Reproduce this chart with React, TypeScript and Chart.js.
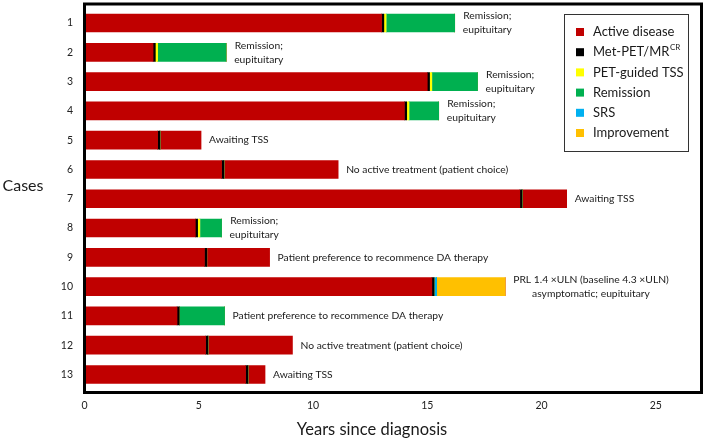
import React, { useEffect, useRef } from "react";
import { Chart, registerables } from "chart.js";

Chart.register(...registerables);

const cases = [1, 2, 3, 4, 5, 6, 7, 8, 9, 10, 11, 12, 13];
const activeBefore = [13.0, 3.0, 15.0, 14.0, 3.2, 6.0, 19.05, 4.85, 5.25, 15.2, 4.05, 5.3, 7.05];
const metPet = [0.1, 0.1, 0.1, 0.1, 0.1, 0.1, 0.1, 0.1, 0.1, 0.1, 0.1, 0.1, 0.1];
const petTss = [0.1, 0.1, 0.1, 0.1, 0, 0, 0, 0.1, 0, 0, 0, 0, 0];
const srs = [0, 0, 0, 0, 0, 0, 0, 0, 0, 0.11, 0, 0, 0];
const remission = [3.0, 3.0, 2.0, 1.3, 0, 0, 0, 0.95, 0, 0, 1.98, 0, 0];
const improvement = [0, 0, 0, 0, 0, 0, 0, 0, 0, 3.0, 0, 0, 0];
const activeAfter = [0, 0, 0, 0, 1.8, 5.0, 1.95, 0, 2.75, 0, 0, 3.7, 0.75];
const outcomes = [
  "Remission;\neupituitary",
  "Remission;\neupituitary",
  "Remission;\neupituitary",
  "Remission;\neupituitary",
  "Awaiting TSS",
  "No active treatment (patient choice)",
  "Awaiting TSS",
  "Remission;\neupituitary",
  "Patient preference to recommence DA therapy",
  "PRL 1.4 \u00d7ULN (baseline 4.3 \u00d7ULN)\nasymptomatic; eupituitary",
  "Patient preference to recommence DA therapy",
  "No active treatment (patient choice)",
  "Awaiting TSS",
];
const xTicks = [0, 5, 10, 15, 20, 25];

const legendItems = [
  { label: "Active disease", sup: "", color: "#C00000" },
  { label: "Met-PET/MR", sup: "CR", color: "#000000" },
  { label: "PET-guided TSS", sup: "", color: "#FFFF00" },
  { label: "Remission", sup: "", color: "#00B050" },
  { label: "SRS", sup: "", color: "#00B0F0" },
  { label: "Improvement", sup: "", color: "#FFC000" },
];

const FONT = "Lato, 'Open Sans', sans-serif";

const toPts = (arr: number[]) => arr.map((v, i) => ({ x: v, y: cases[i] }));

export default function App() {
  const ref = useRef<HTMLCanvasElement | null>(null);

  useEffect(() => {
    if (!ref.current) return;
    Chart.defaults.font.family = FONT;

    const extras = {
      id: "extras",
      afterDatasetsDraw(chart: any) {
        const { ctx, scales } = chart;
        const xs = scales.x;
        const ys = scales.y;
        ctx.save();
        ctx.fillStyle = "#1a1a1a";
        ctx.font = `10.3px ${FONT}`;
        ctx.textBaseline = "middle";
        ctx.textAlign = "center";
        cases.forEach((c, i) => {
          const end =
            activeBefore[i] + metPet[i] + petTss[i] + srs[i] + remission[i] + improvement[i] + activeAfter[i];
          const x0 = xs.getPixelForValue(end) + 8;
          const yc = ys.getPixelForValue(c);
          const lines = outcomes[i].split("\n");
          const w = Math.max(...lines.map((l) => ctx.measureText(l).width));
          const lh = 14;
          lines.forEach((l, j) => {
            ctx.fillText(l, x0 + w / 2, yc + (j - (lines.length - 1) / 2) * lh);
          });
        });
        ctx.restore();
      },
      afterDraw(chart: any) {
        const { ctx, chartArea } = chart;
        ctx.save();
        ctx.strokeStyle = "#000";
        ctx.lineWidth = 3;
        ctx.strokeRect(chartArea.left, chartArea.top, chartArea.right - chartArea.left, chartArea.bottom - chartArea.top);
        ctx.lineWidth = 1;
        ctx.strokeStyle = "#333";
        ctx.fillStyle = "#fff";
        ctx.fillRect(564.5, 14.5, 124, 137);
        ctx.strokeRect(564.5, 14.5, 124, 137);
        ctx.textAlign = "left";
        ctx.textBaseline = "middle";
        legendItems.forEach((it, i) => {
          const y = 32 + i * 20.2;
          ctx.fillStyle = it.color;
          ctx.fillRect(576, y - 4, 8, 8);
          ctx.fillStyle = "#1a1a1a";
          ctx.font = `13px ${FONT}`;
          ctx.fillText(it.label, 593, y);
          if (it.sup) {
            const w = ctx.measureText(it.label).width;
            ctx.font = `8px ${FONT}`;
            ctx.fillText(it.sup, 593 + w + 0.5, y - 5);
          }
        });
        ctx.fillStyle = "#1a1a1a";
        ctx.font = `16px ${FONT}`;
        ctx.textAlign = "center";
        ctx.fillText("Cases", 23, 186);
        ctx.font = `16.5px ${FONT}`;
        ctx.fillText("Years since diagnosis", 372, 430);
        ctx.restore();
      },
    };

    const mk = (label: string, data: number[], color: string) => ({
      label,
      data: toPts(data),
      backgroundColor: color,
      borderWidth: 0,
      barThickness: 18,
    });

    const chart = new Chart(ref.current, {
      type: "bar",
      data: {
        datasets: [
          mk("Active disease", activeBefore, "#C00000"),
          mk("Met-PET/MR", metPet, "#000000"),
          mk("PET-guided TSS", petTss, "#FFFF00"),
          mk("SRS", srs, "#00B0F0"),
          mk("Remission", remission, "#00B050"),
          mk("Improvement", improvement, "#FFC000"),
          mk("Active disease (cont.)", activeAfter, "#C00000"),
        ] as any,
      },
      options: {
        responsive: false,
        animation: false,
        indexAxis: "y",
        layout: { padding: { top: 4, right: 6.5, left: 0, bottom: 0 } },
        plugins: { legend: { display: false }, tooltip: { enabled: false } },
        scales: {
          x: {
            type: "linear",
            stacked: true,
            min: 0,
            max: 27,
            grid: { display: false, drawTicks: false },
            border: { display: false },
            ticks: { padding: 7, color: "#222", font: { size: 10.5, family: FONT } },
            afterBuildTicks: (s: any) => {
              s.ticks = xTicks.map((v) => ({ value: v }));
            },
            afterFit: (s: any) => {
              s.height = 50.5;
            },
          },
          y: {
            type: "linear",
            stacked: true,
            reverse: true,
            offset: false,
            min: 0.351,
            max: 13.615,
            grid: { display: false, drawTicks: false, offset: false },
            border: { display: false },
            ticks: {
              padding: 11.5,
              color: "#222",
              font: { size: 10.5, family: FONT },
              callback: (v: any) => String(v),
            },
            afterBuildTicks: (s: any) => {
              s.ticks = cases.map((v) => ({ value: v }));
            },
            afterFit: (s: any) => {
              s.width = 84.5;
              s.paddingTop = 0;
              s.paddingBottom = 0;
            },
          },
        },
      } as any,
      plugins: [extras],
    });
    return () => chart.destroy();
  }, []);

  return (
    <div style={{ position: "absolute", left: 0, top: 0, width: 708, height: 443, background: "#fff" }}>
      <canvas ref={ref} width={708} height={443} style={{ display: "block" }} />
    </div>
  );
}
